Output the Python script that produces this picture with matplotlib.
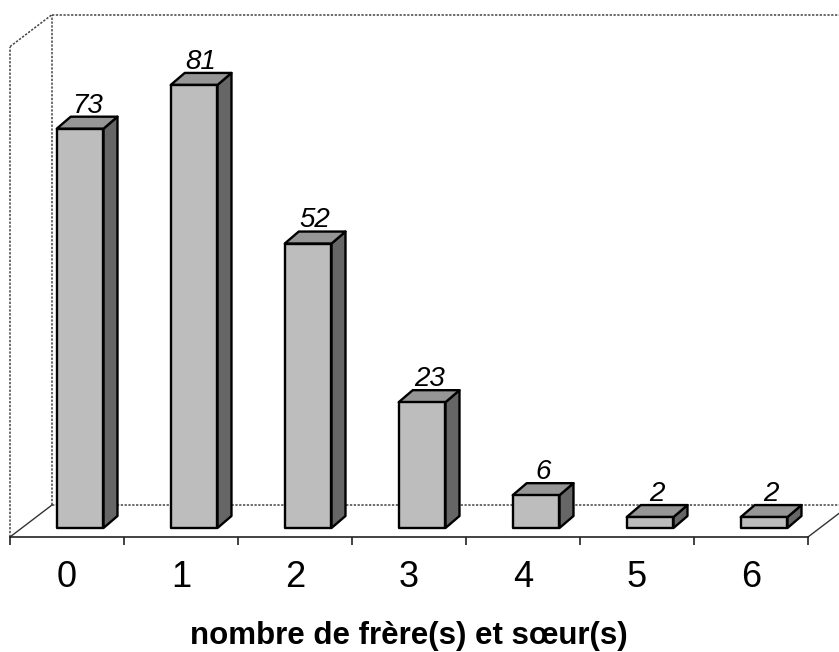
import matplotlib
matplotlib.use("Agg")
import matplotlib.pyplot as plt
from matplotlib.patches import Polygon, Rectangle
import numpy as np

plt.rcParams['font.family'] = ['Liberation Sans', 'DejaVu Sans']

categories = ["0", "1", "2", "3", "4", "5", "6"]
values = [73, 81, 52, 23, 6, 2, 2]
xlabel = "nombre de frère(s) et sœur(s)"

W, H = 839, 652
fig = plt.figure(figsize=(W / 100, H / 100), dpi=100)
ax_left, ax_right = 10, 808
ax_bottom_px, y0_px, ppu = 537, 528, 5.47
ymin = -(ax_bottom_px - y0_px) / ppu
ymax = 95.5
top_px = y0_px - ymax * ppu
ax = fig.add_axes([ax_left / W, (H - ax_bottom_px) / H,
                   (ax_right - ax_left) / W, (ax_bottom_px - top_px) / H])
n = len(categories)
ax.set_xlim(-0.5, n - 0.5)
ax.set_ylim(ymin, ymax)
ax.patch.set_visible(False)

def to_data_offset(dxp, dyp):
    p0 = ax.transData.transform((0, 0))
    p1 = ax.transData.inverted().transform(p0 + np.array([dxp, dyp]))
    return p1[0], p1[1]

# floor/wall depth
fdx, fdy = to_data_offset(42, 32)
# bar depth
bdx, bdy = to_data_offset(14, 12)

wall_kw = dict(color='#444444', lw=1.1, linestyle=(0, (1.5, 1)), clip_on=False, zorder=1)
xl = -0.5
top_front = 88.0
# left wall
ax.plot([xl, xl], [ymin, top_front], **wall_kw)
ax.plot([xl, xl + fdx], [top_front, top_front + fdy], **wall_kw)
# back wall
ax.plot([xl + fdx, xl + fdx], [ymin + fdy, top_front + fdy], **wall_kw)
ax.plot([xl + fdx, n + 1], [top_front + fdy, top_front + fdy], **wall_kw)
# floor
ax.plot([xl, xl + fdx], [ymin, ymin + fdy], color='#333333', lw=1.0, clip_on=False, zorder=1)
ax.plot([xl + fdx, n + 1], [ymin + fdy, ymin + fdy], **wall_kw)
ax.plot([n - 0.5, n - 0.5 + fdx * 2], [ymin, ymin + fdy * 2], color='#333333', lw=1.0,
        clip_on=False, zorder=1)

# bars
bw = 0.41
shift = 0.115
front_c = '#bdbdbd'
side_c = '#666666'
top_c = '#969696'
for i, v in enumerate(values):
    xc = i + shift
    x0, x1 = xc - bw / 2, xc + bw / 2
    ax.add_patch(Polygon([(x1, 0), (x1 + bdx, bdy), (x1 + bdx, v + bdy), (x1, v)],
                         closed=True, facecolor=side_c, edgecolor='black', lw=1.7,
                         joinstyle='round', zorder=3))
    ax.add_patch(Polygon([(x0, v), (x0 + bdx, v + bdy), (x1 + bdx, v + bdy), (x1, v)],
                         closed=True, facecolor=top_c, edgecolor='black', lw=1.7,
                         joinstyle='round', zorder=3))
    ax.add_patch(Rectangle((x0, 0), bw, v, facecolor=front_c, edgecolor='black',
                           lw=1.7, joinstyle='round', zorder=4))
    ax.annotate(str(v), (xc + bdx / 2, v + bdy), xytext=(0, 3), textcoords='offset points',
                ha='center', va='baseline', fontsize=20, fontstyle='italic', zorder=5)

# axes / ticks
for s in ['top', 'right', 'left']:
    ax.spines[s].set_visible(False)
ax.spines['bottom'].set_color('#222222')
ax.spines['bottom'].set_linewidth(1.2)
ax.set_yticks([])
ax.set_xticks(range(n))
ax.set_xticklabels(categories, fontsize=26)
ax.set_xticks(np.arange(-0.5, n, 1.0), minor=True)
ax.tick_params(axis='x', which='major', length=0, pad=16.5)
ax.tick_params(axis='x', which='minor', length=6, width=1.2, color='#222222')

fig.text((ax_left + ax_right) / 2 / W, (H - 644) / H, xlabel, ha='center', va='baseline',
         fontsize=22.5, fontweight='bold')

fig.savefig("out.png", dpi=100)
